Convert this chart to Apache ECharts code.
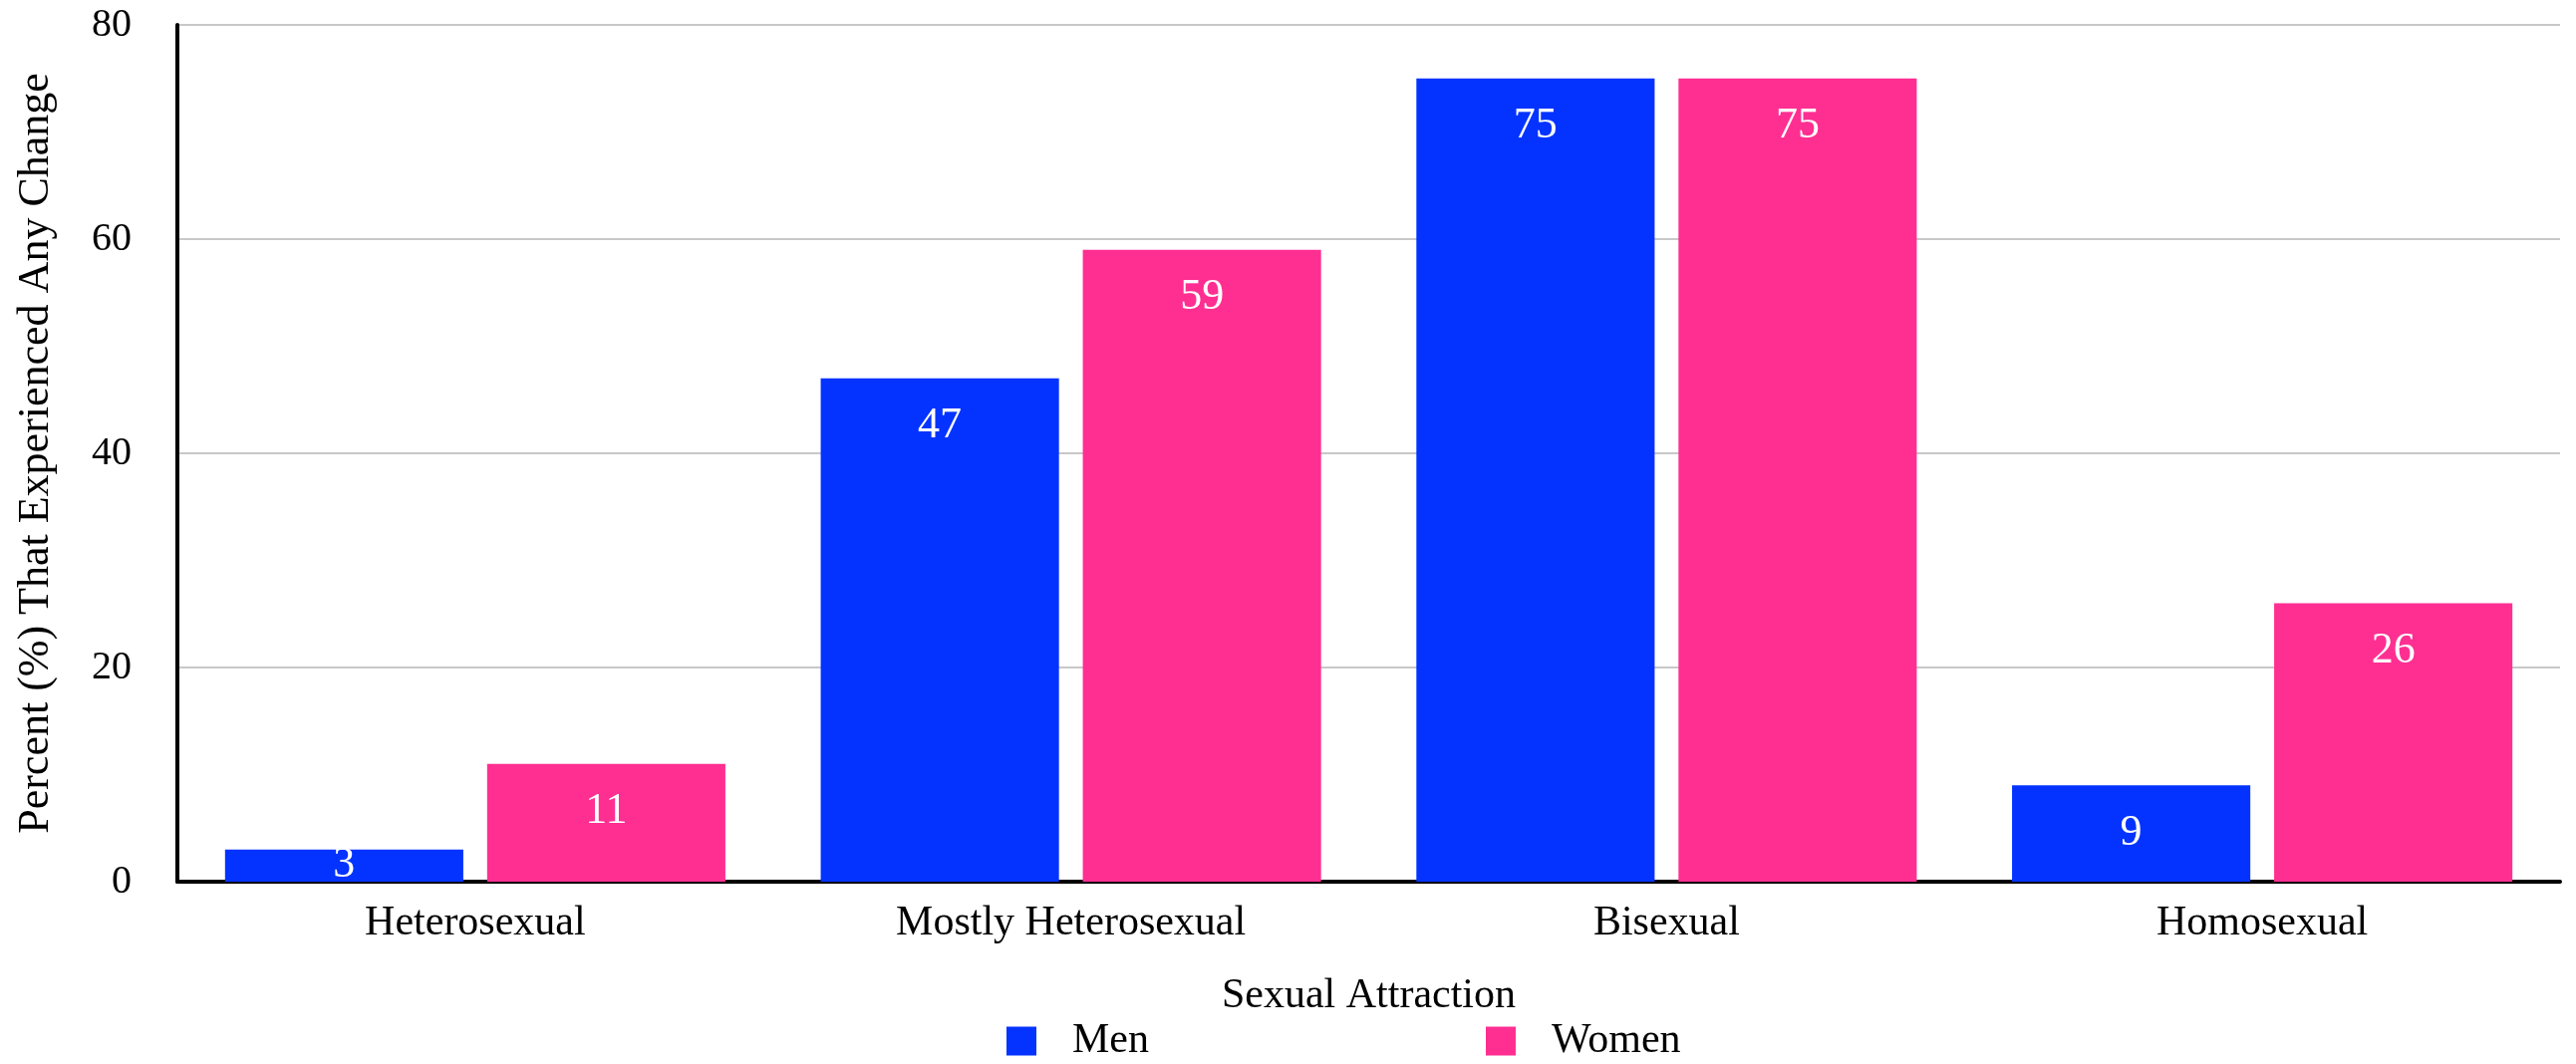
<!DOCTYPE html>
<html>
<head>
<meta charset="utf-8">
<script src="https://cdn.jsdelivr.net/npm/echarts@6/dist/echarts.min.js"></script>
<style>
  html, body { margin: 0; padding: 0; background: #fff; }
  #chart { width: 2585px; height: 1068px; }
</style>
</head>
<body>
<div id="chart"></div>
<script>
// data
const categories = ['Heterosexual', 'Mostly Heterosexual', 'Bisexual', 'Homosexual'];
const menValues = [3, 47, 75, 9];
const womenValues = [11, 59, 75, 26];
const seriesNames = ['Men', 'Women'];
const yTicks = [0, 20, 40, 60, 80];

const FONT = '"Liberation Serif", "DejaVu Serif", serif';
const BLUE = '#0433ff';
const PINK = '#ff2f92';

// short bars get their label centred instead of inside the top
function toItems(values) {
  return values.map(v => v < 5
    ? { value: v, label: { position: 'inside' } }
    : v);
}

const chart = echarts.init(document.getElementById('chart'), null, { renderer: 'canvas' });

const barLabel = {
  show: true,
  position: 'insideTop',
  distance: 26,
  color: '#fff',
  fontFamily: FONT,
  fontSize: 44
};

chart.setOption({
  animation: false,
  textStyle: { fontFamily: FONT },
  grid: { left: 178, right: 16, top: 25, bottom: 183 },
  legend: {
    data: seriesNames,
    left: 1010,
    top: 1024,
    padding: 0,
    itemWidth: 30,
    itemHeight: 29,
    itemGap: 338,
    icon: 'rect',
    textStyle: { fontFamily: FONT, fontSize: 42, color: '#000', padding: [0, 0, 0, 31] }
  },
  xAxis: {
    type: 'category',
    data: categories,
    name: 'Sexual Attraction',
    nameLocation: 'middle',
    nameGap: 94,
    nameTextStyle: { fontFamily: FONT, fontSize: 42, color: '#000' },
    axisLine: { lineStyle: { color: '#000', width: 4 } },
    axisTick: { show: false },
    axisLabel: { fontFamily: FONT, fontSize: 42, color: '#000', margin: 21 }
  },
  yAxis: {
    type: 'value',
    min: yTicks[0],
    max: yTicks[yTicks.length - 1],
    interval: 20,
    name: 'Percent (%) That Experienced Any Change',
    nameLocation: 'middle',
    nameGap: 120,
    nameTextStyle: { fontFamily: FONT, fontSize: 44, color: '#000' },
    axisLine: { show: true, lineStyle: { color: '#000', width: 4 } },
    axisTick: { show: false },
    axisLabel: { fontFamily: FONT, fontSize: 40, color: '#000', margin: 46 },
    splitLine: { lineStyle: { color: '#c8c8c8', width: 2 } }
  },
  series: [
    {
      name: seriesNames[0],
      type: 'bar',
      data: toItems(menValues),
      itemStyle: { color: BLUE },
      barGap: '10%',
      barCategoryGap: '16%',
      label: barLabel
    },
    {
      name: seriesNames[1],
      type: 'bar',
      data: toItems(womenValues),
      itemStyle: { color: PINK },
      barGap: '10%',
      barCategoryGap: '16%',
      label: barLabel
    }
  ]
});
</script>
</body>
</html>
